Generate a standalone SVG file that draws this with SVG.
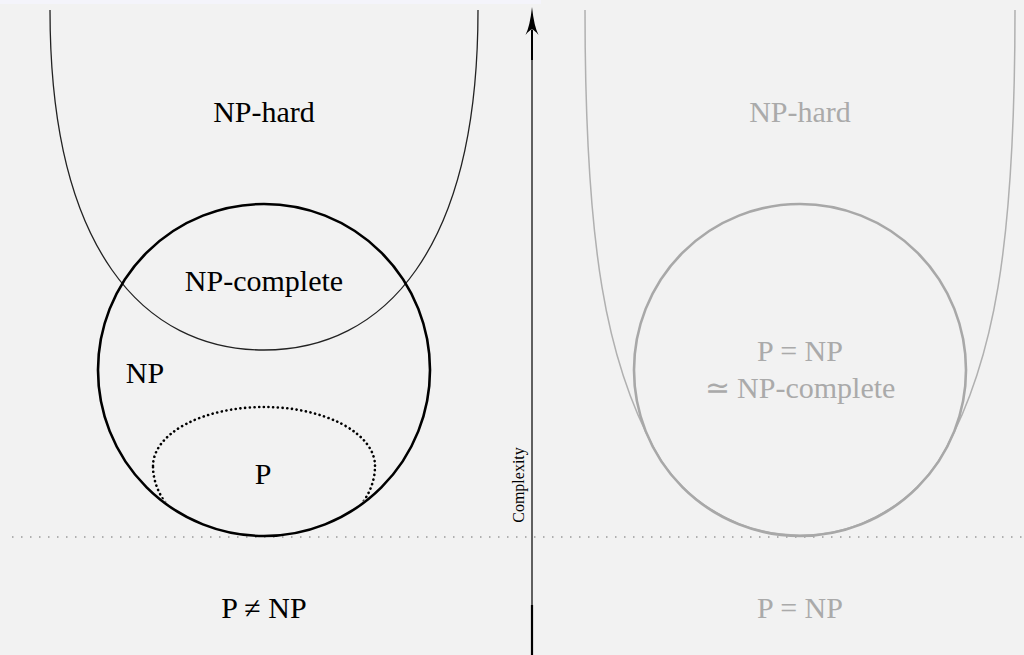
<svg xmlns="http://www.w3.org/2000/svg" width="1024" height="655" viewBox="0 0 1024 655">
<style>
.t{font-family:"Liberation Serif","Times New Roman",serif;font-size:30px;text-anchor:middle}
.k{fill:#000}
.g{fill:#aaaaaa}
</style>
<defs>
<clipPath id="npc"><circle cx="264" cy="370" r="164.5"/></clipPath>
</defs>
<rect x="0" y="0" width="1024" height="655" fill="#f2f2f2"/>
<rect x="0" y="0" width="541" height="4" fill="#f4f4fb"/>
<g id="connectors">
<line x1="12" y1="537" x2="1024" y2="537" stroke="#9a9a9a" stroke-width="1.5" stroke-dasharray="1.5 7.5"/>
<line x1="532" y1="30" x2="532" y2="655" stroke="#606060" stroke-width="2"/>
<line x1="532" y1="30" x2="532" y2="60" stroke="#000" stroke-width="2"/>
<line x1="532" y1="605" x2="532" y2="655" stroke="#000" stroke-width="2.2"/>
<path d="M532,7 Q534,26 538.5,35 Q534,29.5 532,29.5 Q530,29.5 525.5,35 Q530,26 532,7 Z" fill="#000"/>
<text x="524" y="485" transform="rotate(-90 524 485)" font-family="Liberation Serif, serif" font-size="16" text-anchor="middle" fill="#000">Complexity</text>
</g>
<g id="np-hard-left">
<path d="M50,10 C50,250 144,350 264,350 C384,350 478,250 478,10" fill="none" stroke="#222" stroke-width="1.3"/>
<text class="t k" x="264" y="122">NP-hard</text>
</g>
<g id="np-left">
<circle cx="264" cy="370" r="166" fill="none" stroke="#000" stroke-width="2.6"/>
<text class="t k" x="264" y="291">NP-complete</text>
<text class="t k" x="145" y="383">NP</text>
</g>
<g id="p-left">
<path d="M153,466 A111,59 0 0 1 375,466 A111,80 0 0 1 153,466 Z" fill="none" stroke="#000" stroke-width="2.6" stroke-linecap="round" stroke-dasharray="0.1 4.6" clip-path="url(#npc)"/>
<text class="t k" x="263" y="484">P</text>
</g>
<g id="label-left">
<text class="t k" x="264" y="618">P ≠ NP</text>
</g>
<g id="np-hard-right">
<path d="M585,10 C585,250 607,362.5 655,450 A166,166 0 0 0 945,450 C993,362.5 1015,250 1015,10" fill="none" stroke="#b0b0b0" stroke-width="1.5"/>
<text class="t g" x="800" y="122">NP-hard</text>
</g>
<g id="p-np-right">
<circle cx="800" cy="370" r="166" fill="none" stroke="#a8a8a8" stroke-width="2.6"/>
<text class="t g" x="800" y="361">P = NP</text>
<text class="t g" x="800" y="398">≃ NP-complete</text>
</g>
<g id="label-right">
<text class="t g" x="800" y="618">P = NP</text>
</g>
</svg>
